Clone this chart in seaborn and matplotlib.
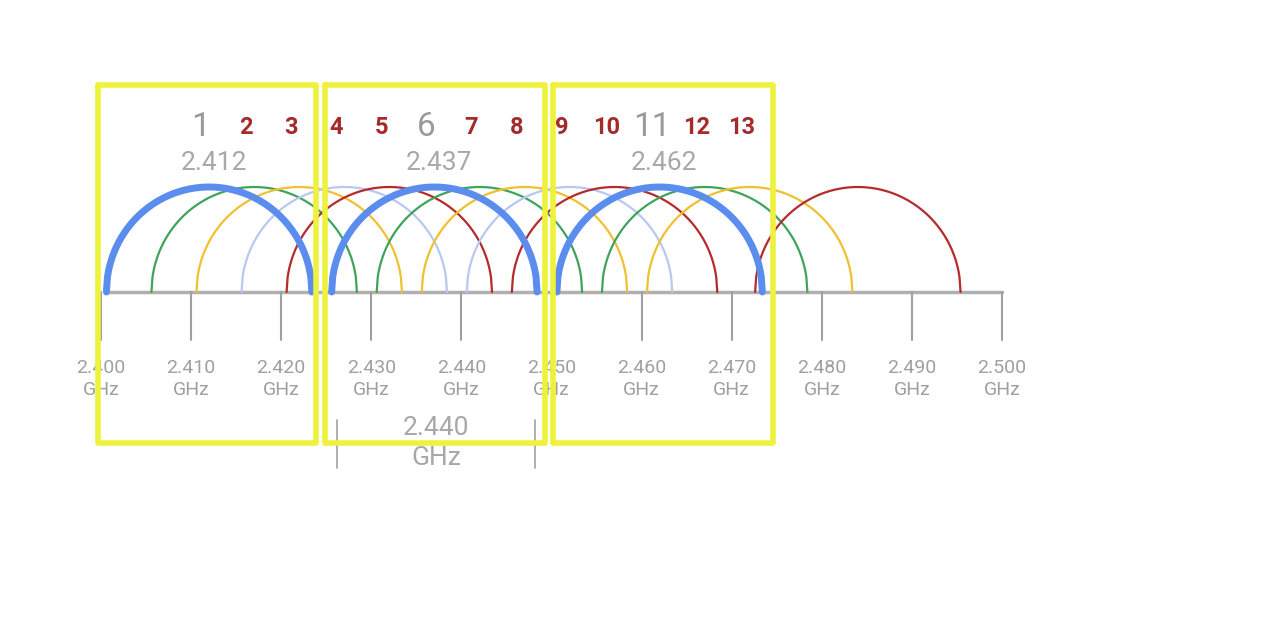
import numpy as np
import pandas as pd
import seaborn as sns
import matplotlib.pyplot as plt

sns.set_style("white")
plt.rcParams['font.family'] = ['Roboto', 'DejaVu Sans']

channels = list(range(1, 15))
centers = [2412 + 5 * (c - 1) for c in channels]
centers[-1] = 2484
colour_names = ['blue', 'green', 'yellow', 'lightblue', 'red',
                'blue', 'green', 'yellow', 'lightblue', 'red',
                'blue', 'green', 'yellow', 'red']
palette = {'blue': '#5b8def', 'green': '#3fa35b', 'yellow': '#f0c030',
           'lightblue': '#b8c8f0', 'red': '#b52a2a'}
tick_freqs = [2400, 2410, 2420, 2430, 2440, 2450, 2460, 2470, 2480, 2490, 2500]
main_freqs = ['2.412', '2.437', '2.462']
main_channels = [1, 6, 11]

# pixel mapping helpers: x in MHz, y in pixel rows
x0_px, px_per_mhz = 101, 9.01
fig = plt.figure(figsize=(12.64, 6.44), dpi=100)
ax = fig.add_axes([0, 0, 1, 1])
ax.set_xlim(2400 - x0_px / px_per_mhz, 2400 + (1264 - x0_px) / px_per_mhz)
ax.set_ylim(644, 0)
ax.axis('off')

base, h, half = 292, 105, 11.4
rows = []
for ch, c, col in zip(channels, centers, colour_names):
    f = np.linspace(c - half, c + half, 200)
    y = base - h * np.sqrt(np.clip(1 - ((f - c) / half) ** 2, 0, 1))
    rows.append(pd.DataFrame({'f': f, 'y': y, 'ch': ch, 'col': col}))
df = pd.concat(rows)
# draw thin arcs first, then thick main ones
for ch in channels:
    d = df[df.ch == ch]
    thick = ch in main_channels
    sns.lineplot(data=d, x='f', y='y', ax=ax, color=palette[d.col.iloc[0]],
                 lw=5 if thick else 1.6, zorder=3 if thick else 2, sort=False)

# axis line and ticks
ax.plot([2400.6, 2500], [base, base], color='#b0b0b0', lw=2.5, zorder=1)
for t in tick_freqs:
    ax.plot([t, t], [base, 340], color='#a0a0a0', lw=1.5, zorder=1)
    ax.text(t, 368, f"{t/1000:.3f}", ha='center', va='center', color='#a0a0a0', fontsize=14)
    ax.text(t, 390, "GHz", ha='center', va='center', color='#a0a0a0', fontsize=14)

# channel numbers
for ch, c in zip(channels[:13], centers[:13]):
    if ch in main_channels:
        ax.text(c - 0.9, 127, str(ch), ha='center', va='center', color='#9a9a9a', fontsize=24)
    else:
        ax.text(c - 0.9, 127, str(ch), ha='center', va='center', color='#a52a2a',
                fontsize=17, fontweight='bold')
for ch, lab in zip(main_channels, main_freqs):
    c = centers[ch - 1]
    ax.text(c + 0.5, 163, lab, ha='center', va='center', color='#a8a8a8', fontsize=19)

# yellow boxes
for lo, hi in [(98, 316), (325, 545), (553, 773)]:
    fl = 2400 + (lo - x0_px) / px_per_mhz
    fh = 2400 + (hi - x0_px) / px_per_mhz
    ax.plot([fl, fh, fh, fl, fl], [85, 85, 443, 443, 85], color='#eef23a', lw=4, zorder=4)

# bracket
bl = 2400 + (337 - x0_px) / px_per_mhz
br = 2400 + (535 - x0_px) / px_per_mhz
for b in (bl, br):
    ax.plot([b, b], [420, 468], color='#a0a0a0', lw=1.2)
ax.text((bl + br) / 2, 428, "2.440", ha='center', va='center', color='#a8a8a8', fontsize=19)
ax.text((bl + br) / 2, 458, "GHz", ha='center', va='center', color='#a8a8a8', fontsize=19)

fig.savefig('out.png', dpi=100, facecolor='white')
